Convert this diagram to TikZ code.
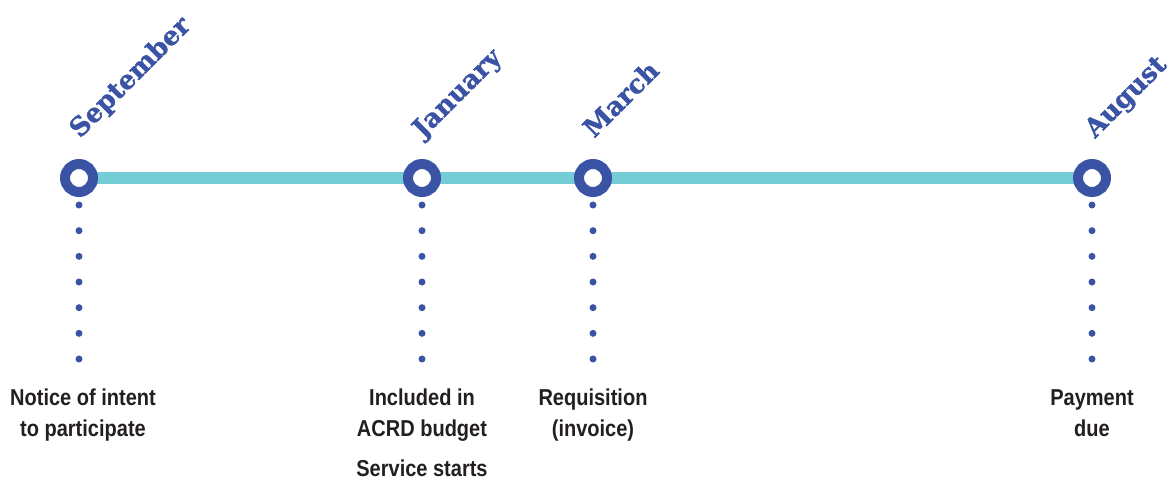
\documentclass[tikz,border=0pt]{standalone}
\usepackage{fontspec}
\usetikzlibrary{backgrounds}
\newfontfamily\labelfont{Liberation Sans}[FakeStretch=0.87]
\newfontfamily\monthfont{DejaVu Serif}[BoldFeatures={FakeBold=1.2}]
\definecolor{ringblue}{HTML}{3A53A4}
\definecolor{lineteal}{HTML}{74CDD6}
\definecolor{txtdark}{HTML}{231F20}
\tikzset{
  ring/.style={circle,draw=ringblue,line width=10pt,fill=white,minimum size=28pt,inner sep=0pt},
  tealline/.style={draw=lineteal,line width=12pt},
  dotline/.style={draw=ringblue,line width=7pt,line cap=round,dash pattern=on 0pt off 25.667pt},
  month/.style={text=ringblue,font=\monthfont\bfseries\fontsize{26}{30}\selectfont,rotate=45,anchor=base west,inner sep=0pt},
  lbl/.style={text=txtdark,font=\labelfont\bfseries\fontsize{23}{31}\selectfont,align=center,inner sep=0pt,anchor=base}
}
\begin{document}
\begin{tikzpicture}[x=1pt,y=-1pt]
\useasboundingbox (0,0) rectangle (1176,482);
\node[ring] (sep) at (79,178) {};
\node[ring] (jan) at (422,178) {};
\node[ring] (mar) at (593,178) {};
\node[ring] (aug) at (1092,178) {};
\begin{pgfonlayer}{background}
\draw[tealline] (sep.center) -- (jan.center) -- (mar.center) -- (aug.center);
\end{pgfonlayer}
\foreach \n/\x in {sep/79,jan/422,mar/593,aug/1092}{
  \coordinate (\n top) at (\x,205);
  \coordinate (\n bot) at (\x,359.5);
  \draw[dotline] (\n top) -- (\n bot);
}
\node[month] (msep) at (80,139) {September};
\node[month] (mjan) at (423,139) {January};
\node[month] (mmar) at (594,139) {March};
\node[month] (maug) at (1095,139) {August};
\node[lbl] (lsep) at (83,436) {Notice of intent\\to participate};
\node[lbl] (ljan) at (422,436) {Included in\\ACRD budget};
\node[lbl] (lsvc) at (422,476) {Service starts};
\node[lbl] (lmar) at (593,436) {Requisition\\(invoice)};
\node[lbl] (laug) at (1092,436) {Payment\\due};
\end{tikzpicture}
\end{document}
